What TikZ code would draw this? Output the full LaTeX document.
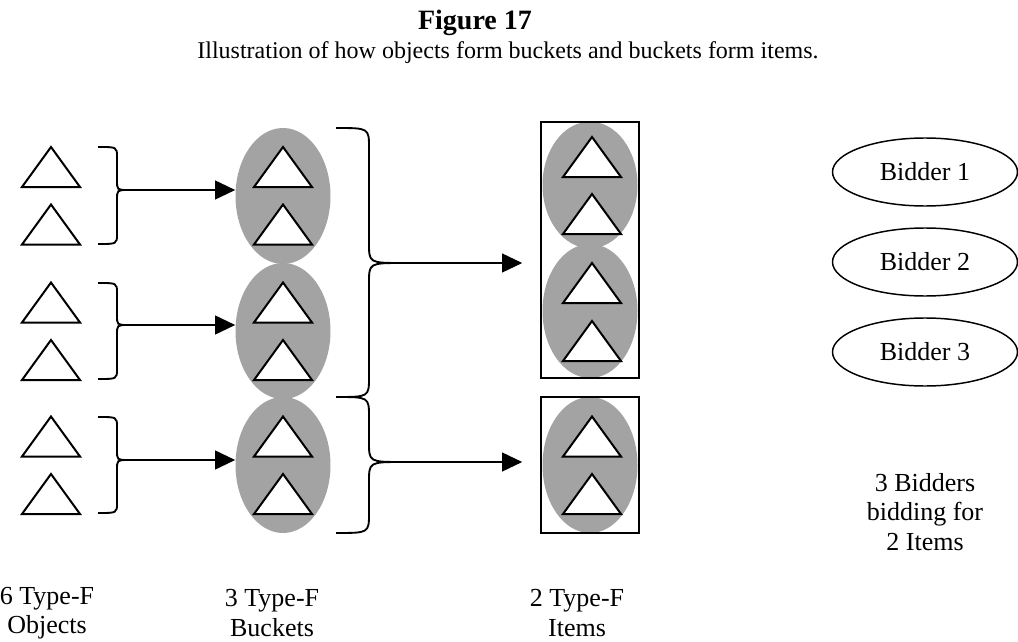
\documentclass[tikz,border=0pt]{standalone}
\usepackage{fontspec}
\setmainfont{Liberation Serif}
\usetikzlibrary{shapes.geometric,arrows.meta}
\newcommand\mybrace[8]{% name, x0, xv, xt, ytop, ytip, ybot, r
  \draw[brc] (#2,#5) .. controls (#3,#5) .. (#3,#5+#8) -- (#3,#6-#8)
    .. controls (#3,#6) .. (#4,#6) .. controls (#3,#6) .. (#3,#6+#8)
    -- (#3,#7-#8) .. controls (#3,#7) .. (#2,#7);
  \coordinate (#1) at (#4,#6);}
\begin{document}
\begin{tikzpicture}[x=0.75pt,y=-0.75pt,
  txt/.style={font=\fontsize{19.5}{22}\selectfont, align=center, inner sep=0},
  trist/.style={draw=black, fill=white, line width=1.5pt, line join=miter},
  tri/.pic={\draw[trist] (-29,20) -- (0,-20) -- (29,20) -- cycle;},
  bucket/.style={ellipse, fill=black!36, minimum width=71.25pt, minimum height=102pt, inner sep=0},
  itembox/.style={rectangle, draw=black, line width=1.2pt, minimum width=73.5pt, inner sep=0},
  bidder/.style={ellipse, draw=black, line width=1.1pt, minimum width=138.75pt, minimum height=51pt, inner sep=0, font=\fontsize{19.5}{22}\selectfont},
  brc/.style={draw=black, line width=1.4pt},
  arr/.style={draw=black, line width=1.4pt, -{Triangle[length=15pt,width=14pt]}}]
\useasboundingbox (0,0) rectangle (1018,642);

% titles
\node[font=\bfseries\fontsize{21}{24}\selectfont, inner sep=0] (title) at (475,23) {Figure 17};
\node[font=\fontsize{18}{21}\selectfont, inner sep=0] (subtitle) at (508,53) {Illustration of how objects form buckets and buckets form items.};

% objects
\foreach \y in {167,224.5,302.5,360,436.5,494} { \pic at (51,\y) {tri}; }

% buckets
\node[bucket] (b1) at (283,196) {};
\node[bucket] (b2) at (283,331) {};
\node[bucket] (b3) at (283,465) {};
\foreach \y in {167,224.5,302.5,360,436.5,494} { \pic at (283,\y) {tri}; }

% items
\node[bucket, minimum height=95pt] (ie1) at (590,185) {};
\node[bucket, minimum height=100.5pt] (ie2) at (590,311) {};
\node[bucket] (ie3) at (590,465) {};
\node[itembox, minimum height=192pt] (i1) at (590,250) {};
\node[itembox, minimum height=102pt] (i2) at (590,465) {};
\foreach \y in {157,214,283,341,436.5,494} { \pic at (592,\y) {tri}; }

% small braces and arrows
\mybrace{s1}{98}{117}{128}{147}{190}{244}{10}
\mybrace{s2}{98}{117}{128}{283}{325}{379}{10}
\mybrace{s3}{98}{117}{128}{417}{460}{513}{10}
\draw[arr] (s1) -- (s1 -| b1.west);
\draw[arr] (s2) -- (s2 -| b2.west);
\draw[arr] (s3) -- (s3 -| b3.west);

% big braces and arrows
\mybrace{ta}{336}{369}{403}{128}{263}{397}{20}
\mybrace{tb}{336}{369}{403}{397}{462}{533}{20}
\draw[arr, shorten >=13.5pt] (ta) -- (ta -| i1.west);
\draw[arr, shorten >=13.5pt] (tb) -- (tb -| i2.west);

% bidders
\node[bidder] (d1) at (925,172) {Bidder 1};
\node[bidder] (d2) at (925,262) {Bidder 2};
\node[bidder] (d3) at (925,352) {Bidder 3};
\node[txt] (note) at (925,512) {3 Bidders\\bidding for\\2 Items};

% labels
\node[txt] (lo) at (47,613) {6 Type-F\\Objects};
\node[txt] (lb) at (272,613) {3 Type-F\\Buckets};
\node[txt] (li) at (577,613) {2 Type-F\\Items};
\end{tikzpicture}
\end{document}
